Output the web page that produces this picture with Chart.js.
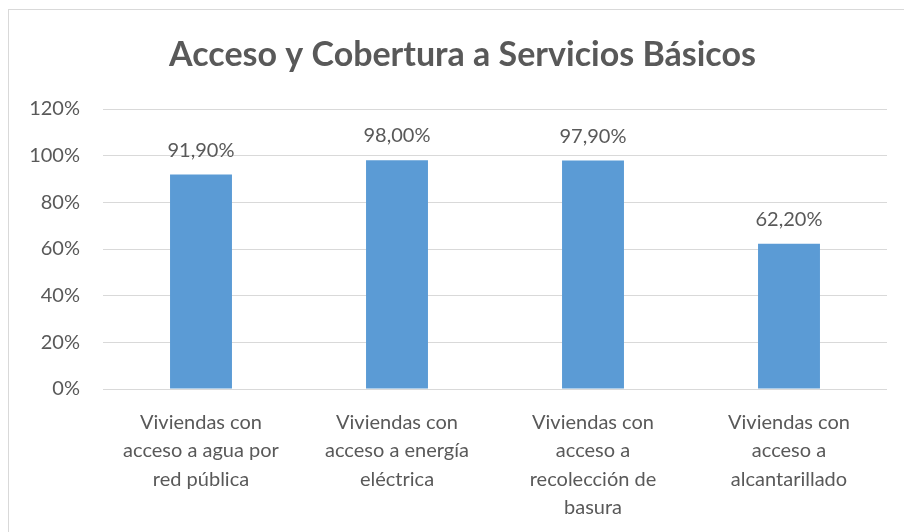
<!DOCTYPE html>
<html lang="es">
<head>
<meta charset="utf-8">
<title>Acceso y Cobertura a Servicios Básicos</title>
<script src="https://cdn.jsdelivr.net/npm/chart.js@4.4.1/dist/chart.umd.min.js"></script>
<style>
  html, body { margin: 0; padding: 0; background: #fff; overflow: hidden; width: 904px; height: 532px; }
  #frame {
    position: absolute; left: 8px; top: 9px;
    width: 907px; height: 540px;
    border: 1px solid #d9d9d9;
  }
  #coverageChart { display: block; }
</style>
</head>
<body>
<div id="frame">
  <canvas id="coverageChart" width="907" height="540"></canvas>
</div>
<script>
const categories = [
  ["Viviendas con", "acceso a agua por", "red pública"],
  ["Viviendas con", "acceso a energía", "eléctrica"],
  ["Viviendas con", "acceso a", "recolección de", "basura"],
  ["Viviendas con", "acceso a", "alcantarillado"]
];
const coverage = [91.9, 98.0, 97.9, 62.2];
const yTicks = [0, 20, 40, 60, 80, 100, 120];

const textColor = "#595959";
const fontFamily = "Lato, 'Open Sans', sans-serif";

// value labels above each bar, e.g. "91,90%"
const barLabels = {
  id: "barLabels",
  afterDatasetsDraw(chart) {
    const { ctx } = chart;
    const meta = chart.getDatasetMeta(0);
    ctx.save();
    ctx.font = `20px ${fontFamily}`;
    ctx.fillStyle = textColor;
    ctx.textAlign = "center";
    ctx.textBaseline = "alphabetic";
    meta.data.forEach((bar, i) => {
      const txt = coverage[i].toFixed(2).replace(".", ",") + "%";
      ctx.fillText(txt, bar.x, bar.y - 18);
    });
    ctx.restore();
  }
};

// centre the title on the whole frame rather than on the padded box
const centreTitle = {
  id: "centreTitle",
  afterLayout(chart) {
    const t = chart.titleBlock;
    if (t) t.left = chart.width - t.right;
  }
};

Chart.defaults.font.family = fontFamily;
Chart.defaults.color = textColor;

new Chart(document.getElementById("coverageChart"), {
  type: "bar",
  data: {
    labels: categories,
    datasets: [{
      data: coverage,
      backgroundColor: "#5b9bd5",
      borderWidth: 0,
      barPercentage: 0.316,
      categoryPercentage: 1
    }]
  },
  options: {
    responsive: false,
    animation: false,
    devicePixelRatio: 1,
    layout: { padding: { left: 0, right: 29, top: 0, bottom: 0 } },
    plugins: {
      legend: { display: false },
      tooltip: { enabled: false },
      title: {
        display: true,
        text: "Acceso y Cobertura a Servicios Básicos",
        color: textColor,
        font: { size: 34, weight: "bold", lineHeight: 1.2 },
        padding: { top: 25, bottom: 33.2 }
      }
    },
    scales: {
      x: {
        grid: { display: false },
        border: { display: false },
        ticks: {
          autoSkip: false,
          maxRotation: 0,
          minRotation: 0,
          padding: 11,
          color: textColor,
          font: { size: 20, lineHeight: 1.425 }
        },
        afterFit(scale) { scale.height = 161; }
      },
      y: {
        min: 0,
        max: 120,
        afterBuildTicks(scale) { scale.ticks = yTicks.map(v => ({ value: v })); },
        grid: { color: "#d9d9d9", lineWidth: 1, drawTicks: false },
        border: { display: false },
        ticks: {
          padding: 23,
          color: textColor,
          font: { size: 20 },
          callback: v => v + "%"
        },
        afterFit(scale) { scale.width = 94; }
      }
    }
  },
  plugins: [barLabels, centreTitle]
});
</script>
</body>
</html>
